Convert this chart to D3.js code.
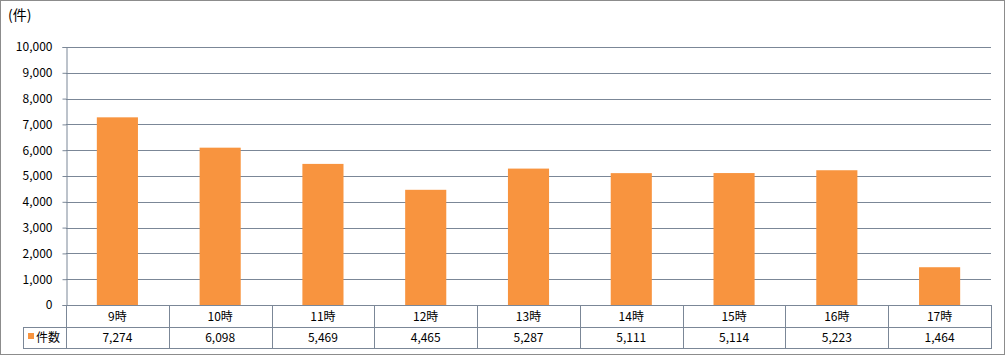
<!DOCTYPE html>
<html>
<head>
<meta charset="utf-8">
<script src="https://cdn.jsdelivr.net/npm/d3@7"></script>
<style>
  body { margin: 0; background: #fff; }
  text { font-family: "Noto Sans CJK JP", "DejaVu Sans", sans-serif; font-size: 12px; fill: #000; }
</style>
</head>
<body>
<div id="chart"></div>
<script>
// Chart data
var categories = ["9時", "10時", "11時", "12時", "13時", "14時", "15時", "16時", "17時"];
var counts = [7274, 6098, 5469, 4465, 5287, 5111, 5114, 5223, 1464];
var seriesName = "件数";
var yTicks = [0, 1000, 2000, 3000, 4000, 5000, 6000, 7000, 8000, 9000, 10000];
var yUnit = "(件)";

var svgWidth = 1006;
var svgHeight = 356;

// plot area
var margin = { top: 47, right: 15, bottom: 51, left: 66 };
var chartWidth = svgWidth - margin.left - margin.right;
var chartHeight = svgHeight - margin.top - margin.bottom;

var svg = d3.select("#chart")
  .append("svg")
  .attr("width", svgWidth)
  .attr("height", svgHeight);

// outer frame
svg.append("rect")
  .attr("x", 0.5).attr("y", 0.5)
  .attr("width", svgWidth - 2).attr("height", svgHeight - 2)
  .attr("fill", "#fff")
  .attr("stroke", "#8c8c8c");

var chartGroup = svg.append("g")
  .attr("transform", `translate(${margin.left}, ${margin.top})`);

var xScale = d3.scaleBand()
  .domain(categories)
  .range([0, chartWidth])
  .paddingInner(0.6)
  .paddingOuter(0.3);

var xEdge = d3.scaleLinear()
  .domain([0, categories.length])
  .range([0, chartWidth]);

var yScale = d3.scaleLinear()
  .domain([0, 10000])
  .range([chartHeight, 0]);

// gridlines
chartGroup.append("g")
  .selectAll("line")
  .data(yTicks.slice(1))
  .join("line")
  .attr("x1", 0).attr("x2", chartWidth)
  .attr("y1", d => Math.round(yScale(d)) + 0.5)
  .attr("y2", d => Math.round(yScale(d)) + 0.5)
  .attr("stroke", "#7b8797");

// left axis
var leftAxis = d3.axisLeft(yScale)
  .tickValues(yTicks)
  .tickSize(4)
  .tickPadding(10)
  .tickFormat(d3.format(","));

var yAxisG = chartGroup.append("g")
  .attr("transform", "translate(0.5,0)")
  .call(leftAxis);
yAxisG.select(".domain").attr("stroke", "#7b8797");
yAxisG.selectAll(".tick line").attr("stroke", "#7b8797");
yAxisG.selectAll("text").style("font-size", "12px").attr("fill", "#000");

// bars
chartGroup.append("g")
  .selectAll("rect")
  .data(counts)
  .join("rect")
  .attr("x", (d, i) => xScale(categories[i]))
  .attr("y", d => yScale(d))
  .attr("width", xScale.bandwidth())
  .attr("height", d => chartHeight - yScale(d))
  .attr("fill", "#f8943f");

// data table below the plot
var rowH = 21.5;
var table = chartGroup.append("g")
  .attr("transform", `translate(0, ${chartHeight})`);

var lineColor = "#7b8797";

// x axis line
table.append("line")
  .attr("x1", 0).attr("x2", chartWidth)
  .attr("y1", 0.5).attr("y2", 0.5)
  .attr("stroke", lineColor);

// horizontal table lines
table.append("line")
  .attr("x1", -43).attr("x2", chartWidth)
  .attr("y1", Math.round(rowH) + 0.5).attr("y2", Math.round(rowH) + 0.5)
  .attr("stroke", lineColor);
table.append("line")
  .attr("x1", -43).attr("x2", chartWidth)
  .attr("y1", Math.round(rowH * 2) + 0.5).attr("y2", Math.round(rowH * 2) + 0.5)
  .attr("stroke", lineColor);

// vertical table lines
table.append("g")
  .selectAll("line")
  .data(d3.range(categories.length + 1))
  .join("line")
  .attr("x1", d => Math.round(xEdge(d)) + 0.5)
  .attr("x2", d => Math.round(xEdge(d)) + 0.5)
  .attr("y1", 0)
  .attr("y2", Math.round(rowH * 2) + 1)
  .attr("stroke", lineColor);

// legend cell left edge
table.append("line")
  .attr("x1", -42.5).attr("x2", -42.5)
  .attr("y1", Math.round(rowH) + 0.5).attr("y2", Math.round(rowH * 2) + 1)
  .attr("stroke", lineColor);

// category labels
table.append("g")
  .selectAll("text")
  .data(categories)
  .join("text")
  .attr("x", (d, i) => (xEdge(i) + xEdge(i + 1)) / 2)
  .attr("y", 15.5)
  .attr("text-anchor", "middle")
  .text(d => d);

// values
table.append("g")
  .selectAll("text")
  .data(counts)
  .join("text")
  .attr("x", (d, i) => (xEdge(i) + xEdge(i + 1)) / 2)
  .attr("y", 37)
  .attr("text-anchor", "middle")
  .text(d => d3.format(",")(d));

// legend key + series name
table.append("rect")
  .attr("x", -38).attr("y", 28)
  .attr("width", 6).attr("height", 6)
  .attr("fill", "#f8943f");
table.append("text")
  .attr("x", -30).attr("y", 37)
  .text(seriesName);

// unit label
svg.append("text")
  .attr("x", 8).attr("y", 20)
  .style("font-size", "14px")
  .text(yUnit);
</script>
</body>
</html>
